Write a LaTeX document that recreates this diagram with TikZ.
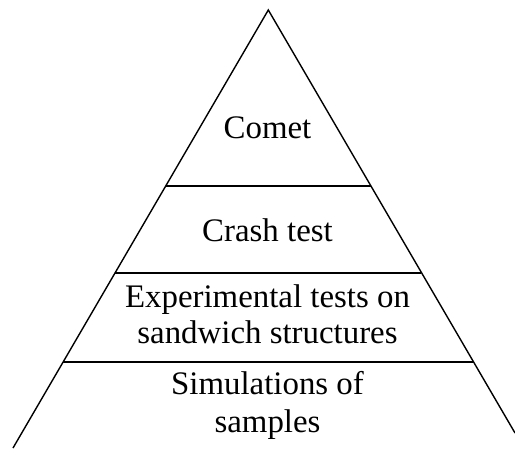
\documentclass[tikz,border=0pt]{standalone}
\usepackage{fontspec}
\setmainfont{Liberation Serif}
\begin{document}
\begin{tikzpicture}[x=1bp,y=-1bp,
  edge/.style={line width=1.4bp,black},
  lbl/.style={anchor=base,inner sep=0pt,font=\fontsize{33}{38}\selectfont}]
\useasboundingbox (0,0) rectangle (515,449);
% outline of the pyramid
\coordinate (apex) at (268.3,10);
\coordinate (bl) at (13,448);
\coordinate (br) at (515,433);
\draw[edge] (bl) -- (apex) -- (br);
% tier boundaries
\coordinate (l1) at (165.9,186); \coordinate (r1) at (370.7,186);
\coordinate (l2) at (115.2,273); \coordinate (r2) at (421.4,273);
\coordinate (l3) at (63.4,362);  \coordinate (r3) at (473.2,362);
\draw[edge] (l1) -- (r1);
\draw[edge] (l2) -- (r2);
\draw[edge] (l3) -- (r3);
% tier labels
\node[lbl] (comet) at (267.5,139) {Comet};
\node[lbl] (crash) at (267.5,241.5) {Crash test};
\node[lbl] (exp1) at (267.5,307) {Experimental tests on};
\node[lbl] (exp2) at (267.5,343) {sandwich structures};
\node[lbl] (sim1) at (267.5,394) {Simulations of};
\node[lbl] (sim2) at (267.5,432) {samples};
\end{tikzpicture}
\end{document}
